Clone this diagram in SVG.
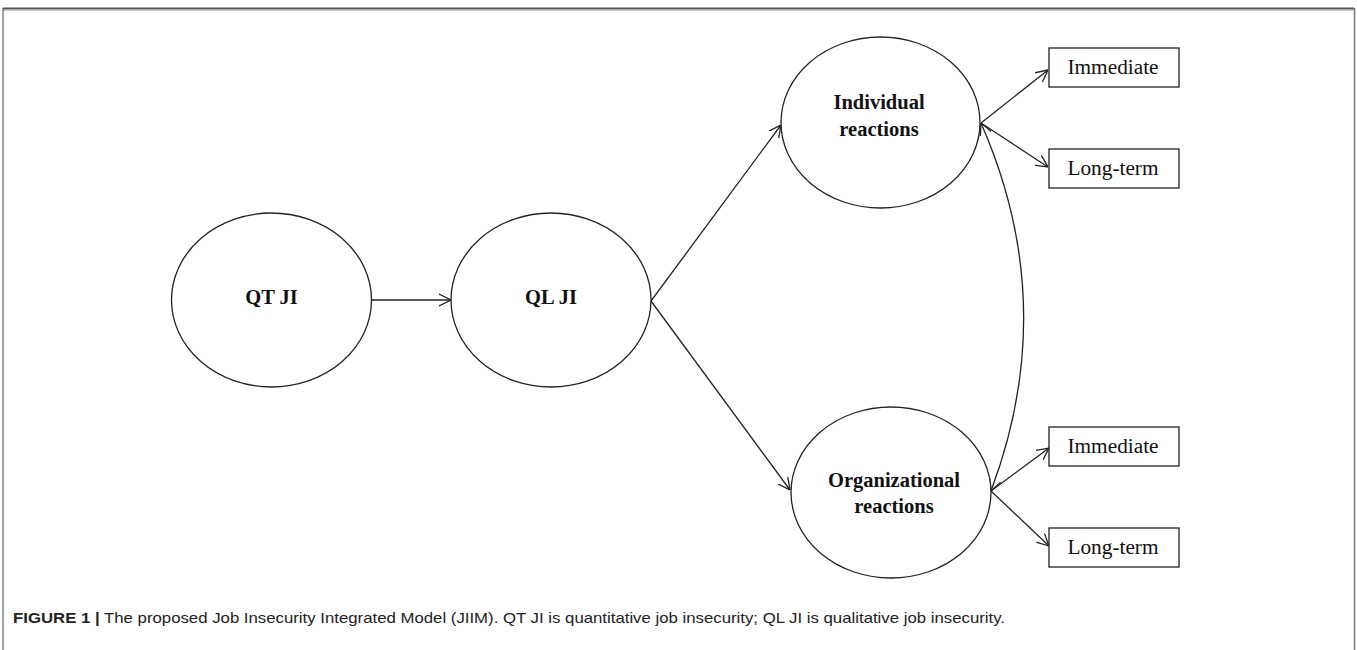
<svg xmlns="http://www.w3.org/2000/svg" width="1357" height="650" viewBox="0 0 1357 650">
<style>
.node ellipse, .node rect { fill: #fff; stroke: #222; stroke-width: 1.3; }
.lbl { font-family: "Liberation Serif", "Times New Roman", serif; fill: #111; text-anchor: middle; }
.b { font-weight: bold; font-size: 20.5px; }
.r { font-size: 21.3px; }
.conn path, .conn line { fill: none; stroke: #222; stroke-width: 1.3; }
.cap { font-family: "Liberation Sans", Arial, sans-serif; font-size: 14.5px; fill: #222; }
</style>
<defs>
<marker id="arr" viewBox="0 0 12 14" refX="12" refY="7" markerWidth="12" markerHeight="14" markerUnits="userSpaceOnUse" orient="auto-start-reverse">
<path d="M0,1 L12,7 L0,13" fill="none" stroke="#222" stroke-width="1.3"/>
</marker>
</defs>
<rect width="1357" height="650" fill="#fff"/>
<g id="frame" fill="none">
<line x1="3" y1="8.5" x2="1354" y2="8.5" stroke="#555" stroke-width="2"/>
<line x1="3" y1="10.5" x2="1354" y2="10.5" stroke="#bbb" stroke-width="0.8"/>
<line x1="3" y1="8" x2="3" y2="650" stroke="#666" stroke-width="1.2"/>
<line x1="1354.5" y1="8" x2="1354.5" y2="650" stroke="#777" stroke-width="1.5"/>
</g>
<g class="conn" id="connectors">
<line x1="371" y1="300" x2="451" y2="300" marker-end="url(#arr)"/>
<line x1="651" y1="301" x2="781" y2="125" marker-end="url(#arr)"/>
<line x1="651" y1="301" x2="790" y2="490" marker-end="url(#arr)"/>
<line x1="981" y1="123" x2="1048" y2="70" marker-end="url(#arr)"/>
<line x1="981" y1="123" x2="1048" y2="167" marker-end="url(#arr)"/>
<line x1="991" y1="491" x2="1049" y2="448" marker-end="url(#arr)"/>
<line x1="991" y1="491" x2="1049" y2="546" marker-end="url(#arr)"/>
<path d="M981,123 Q1061,305 991,491" marker-start="url(#arr)" marker-end="url(#arr)"/>
</g>
<g id="qtji" class="node"><ellipse cx="271.5" cy="300" rx="100" ry="87"/><text class="lbl b" x="271.5" y="304">QT JI</text></g>
<g id="qlji" class="node"><ellipse cx="551" cy="300" rx="100" ry="87"/><text class="lbl b" x="551" y="304">QL JI</text></g>
<g id="individual" class="node"><ellipse cx="880.5" cy="122.5" rx="99.5" ry="85.5"/><text class="lbl b" x="879" y="109">Individual</text><text class="lbl b" x="879" y="136">reactions</text></g>
<g id="organizational" class="node"><ellipse cx="891" cy="492.5" rx="100" ry="85.5"/><text class="lbl b" x="894" y="487">Organizational</text><text class="lbl b" x="894" y="513">reactions</text></g>
<g id="imm1" class="node"><rect x="1049" y="48" width="130" height="39"/><text class="lbl r" x="1113" y="74">Immediate</text></g>
<g id="long1" class="node"><rect x="1049" y="149" width="130" height="39"/><text class="lbl r" x="1113" y="175">Long-term</text></g>
<g id="imm2" class="node"><rect x="1049" y="427" width="130" height="39"/><text class="lbl r" x="1113" y="453">Immediate</text></g>
<g id="long2" class="node"><rect x="1049" y="528" width="130" height="39"/><text class="lbl r" x="1113" y="554">Long-term</text></g>
<text class="cap" x="13" y="623" textLength="992" lengthAdjust="spacingAndGlyphs"><tspan font-weight="bold">FIGURE 1 |</tspan> The proposed Job Insecurity Integrated Model (JIIM). QT JI is quantitative job insecurity; QL JI is qualitative job insecurity.</text>
</svg>
